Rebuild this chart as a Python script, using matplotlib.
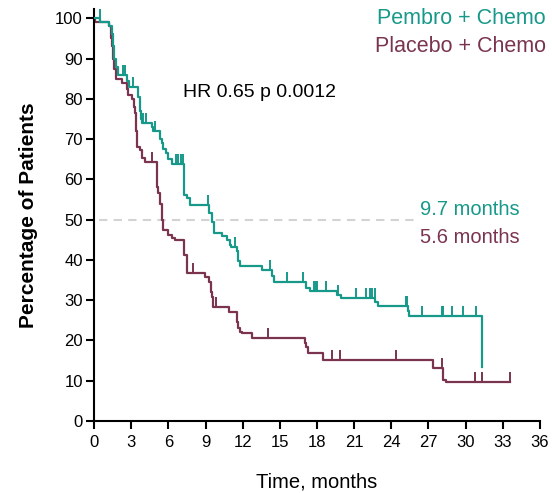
import numpy as np
import matplotlib
matplotlib.use("Agg")
import matplotlib.pyplot as plt
from matplotlib.path import Path

plt.rcParams['font.family'] = ['Liberation Sans', 'DejaVu Sans']

# Pembro + Chemo (teal)
t_pembro = [0, 0.5, 1.2, 1.45, 1.53, 1.61, 1.78, 1.94, 2.7, 2.85, 3.55, 3.71, 3.79, 3.87,
            4.68, 4.8, 5.33, 5.49, 5.57, 5.81, 5.97, 6.3, 7.3, 7.5, 7.75, 9.28, 9.5, 9.65,
            10.33, 10.73, 10.98, 11.06, 11.58, 11.66, 11.82, 13.6, 14.37, 14.49,
            17.11, 17.43, 19.61, 19.94, 22.72, 22.92, 25.34, 25.46, 31.32]
s_pembro = [100, 99, 98, 96, 93, 90, 88, 86, 84.5, 83, 80.5, 77, 75, 74,
            73, 72, 70, 69, 67.5, 66.5, 65, 63.8, 56, 55.4, 53.7, 51.7, 49.4, 46.8,
            46, 45, 43.8, 43.3, 42.3, 39.8, 38.6, 37.5, 36, 34.6,
            33, 32.3, 31.3, 30.6, 29.6, 28.6, 27.3, 26, 13.4]
cens_pembro = [0.45, 2.34, 2.54, 3.15, 3.95, 4.2, 4.92, 6.62, 6.78, 7.02, 7.18, 9.2, 11.38,
               14.2, 15.58, 16.87, 17.76, 17.92, 18.0, 18.72, 19.69, 21.15, 21.95, 22.28,
               22.44, 22.68, 25.18, 25.26, 26.47, 28.09, 28.17, 28.89, 29.78, 30.83]

# Placebo + Chemo (maroon)
t_placebo = [0, 0.1, 1.2, 1.37, 1.45, 1.57, 1.65, 1.75, 2.26, 2.66, 2.78, 3.07, 3.19, 3.31,
             3.43, 3.51, 3.71, 3.87, 4.12, 5.12, 5.2, 5.3, 5.45, 5.55, 5.97, 6.3, 6.54,
             7.3, 7.47, 8.96, 9.28, 9.44, 9.52, 9.6, 10.9, 11.54, 11.62, 11.78, 11.95,
             12.75, 17.03, 17.15, 17.27, 18.48, 27.36, 28.17, 28.41, 33.57]
s_placebo = [100, 99, 98, 95, 93, 90, 87.5, 85, 84, 82.5, 81, 80, 78, 76.5,
             72, 68, 67.3, 65.3, 64.3, 58, 56.6, 54, 50, 47.5, 46.2, 45.5, 45,
             41.2, 36.8, 35.8, 34.5, 32, 30.8, 28.3, 27, 24.5, 23, 22, 21.8,
             20.6, 19.4, 18.4, 16.9, 15.2, 13.2, 10.2, 9.7, 9.7]
cens_placebo = [4.68, 7.99, 9.85, 14.08, 19.2, 19.85, 24.37, 28.09, 30.75, 31.32, 33.57]

x_ticks = list(range(0, 37, 3))
y_ticks = list(range(0, 101, 10))

TEAL = '#17998a'
MAROON = '#7a3450'

fig = plt.figure(figsize=(5.52, 4.93), dpi=100)
ax = fig.add_axes([94/552, (493-421)/493, (540-94)/552, (421-9)/493])

def surv_at(ts, ss, t):
    i = np.searchsorted(ts, t, side='right') - 1
    return np.asarray(ss)[i]

up_tick = Path([(0, 0), (0, 1)], [Path.MOVETO, Path.LINETO])

ax.plot([0.4, 26.0], [50, 50], color='#d3d3d3', lw=1.5, dashes=(4, 3), zorder=1)

ax.step(t_pembro, s_pembro, where='post', color=TEAL, lw=1.6, zorder=3)
ax.step(t_placebo, s_placebo, where='post', color=MAROON, lw=1.6, zorder=2)

ax.plot(cens_pembro, surv_at(t_pembro, s_pembro, cens_pembro), ls='none',
        marker=up_tick, markersize=15, markeredgewidth=1.4, color=TEAL, zorder=3)
ax.plot(cens_placebo, surv_at(t_placebo, s_placebo, cens_placebo), ls='none',
        marker=up_tick, markersize=15, markeredgewidth=1.4, color=MAROON, zorder=2)

ax.set_xlim(0, 36)
ax.set_ylim(0, 102.3)
ax.set_xticks(x_ticks)
ax.set_yticks(y_ticks)
ax.tick_params(axis='both', labelsize=12, width=1.5, length=6, color='black')
ax.tick_params(axis='x', pad=4)
ax.tick_params(axis='y', pad=2)
for sp in ['top', 'right']:
    ax.spines[sp].set_visible(False)
for sp in ['left', 'bottom']:
    ax.spines[sp].set_linewidth(1.5)

ax.set_xlabel('Time, months', fontsize=14.5, labelpad=16)
ax.set_ylabel('Percentage of Patients', fontsize=15, fontweight='bold', labelpad=12)

ax.text(7.2, 81.5, 'HR 0.65 p 0.0012', fontsize=14, color='black', va='center')
ax.text(26.3, 52.5, '9.7 months', fontsize=14.5, color=TEAL, va='center')
ax.text(26.3, 45.5, '5.6 months', fontsize=14.5, color=MAROON, va='center')

fig.text(546/552, 1 - 18/493, 'Pembro + Chemo', fontsize=15.5, color=TEAL, ha='right', va='center')
fig.text(546/552, 1 - 47/493, 'Placebo + Chemo', fontsize=15.5, color=MAROON, ha='right', va='center')

fig.savefig('out.png', dpi=100)
